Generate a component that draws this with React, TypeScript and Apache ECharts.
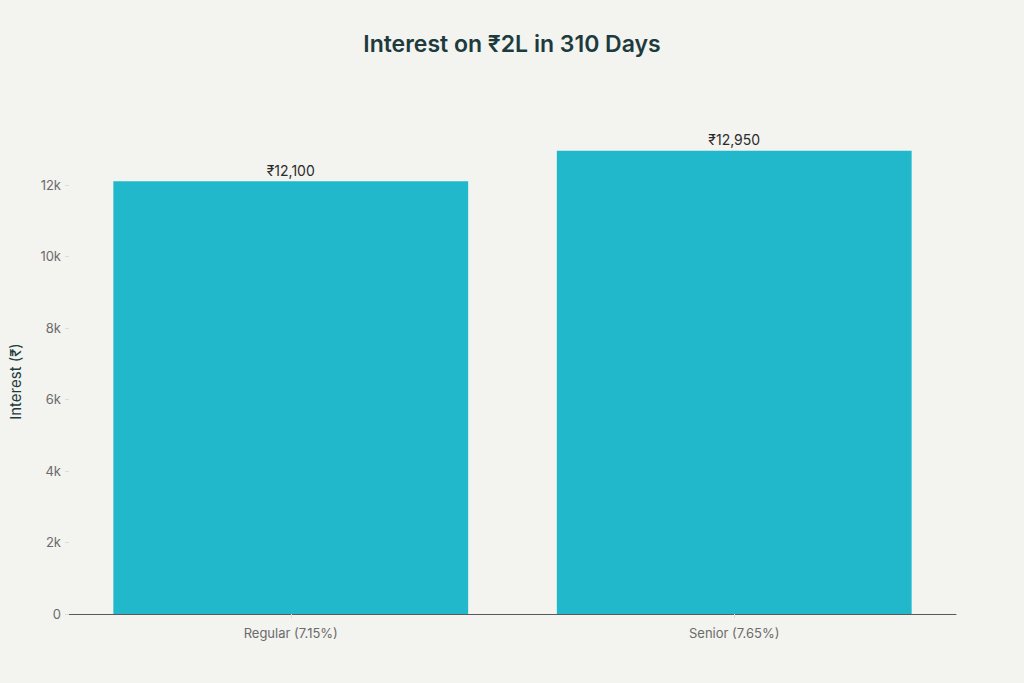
import React, { useEffect, useRef } from 'react'
import * as echarts from 'echarts'

const categories = ['Regular (7.15%)', 'Senior (7.65%)']
const interestValues = [12100, 12950]
const valueLabels = ['₹12,100', '₹12,950']

const FONT = 'Inter, "Noto Sans", "DejaVu Sans", sans-serif'

const App: React.FC = () => {
  const chartRef = useRef<HTMLDivElement>(null)

  useEffect(() => {
    if (!chartRef.current) return
    document.body.style.margin = '0'
    document.body.style.background = '#f3f3ef'
    const chart = echarts.init(chartRef.current, undefined, { renderer: 'svg' })

    const option: echarts.EChartsOption = {
      animation: false,
      backgroundColor: '#f3f3ef',
      title: {
        text: 'Interest on ₹2L in 310 Days',
        left: 'center',
        top: 27,
        textStyle: {
          color: '#1d3b3d',
          fontSize: 23,
          fontWeight: 600,
          fontFamily: FONT
        }
      },
      grid: {
        left: 66,
        right: 68,
        top: 149,
        bottom: 69
      },
      xAxis: {
        type: 'category',
        data: categories,
        axisLine: { lineStyle: { color: '#5a5a5a', width: 1 } },
        axisTick: { show: true, alignWithLabel: true, length: 4, lineStyle: { color: '#dcdcdc' } },
        axisLabel: {
          color: '#6b6b6b',
          fontSize: 13,
          fontFamily: FONT,
          margin: 12,
          interval: 0
        }
      },
      yAxis: {
        type: 'value',
        min: 0,
        max: 13000,
        interval: 2000,
        name: 'Interest (₹)',
        nameLocation: 'middle',
        nameGap: 46,
        nameTextStyle: {
          color: '#1d3b3d',
          fontSize: 15,
          fontFamily: FONT
        },
        axisLine: { show: false },
        axisTick: { show: true, length: 4, lineStyle: { color: '#dcdcdc' } },
        splitLine: { show: false },
        axisLabel: {
          color: '#6b6b6b',
          fontSize: 13,
          fontFamily: FONT,
          margin: 8,
          showMaxLabel: false,
          formatter: (v: number) => (v === 0 ? '0' : `${v / 1000}k`)
        }
      },
      series: [
        {
          type: 'bar',
          data: interestValues,
          barWidth: '80%',
          itemStyle: { color: '#21b8cc' },
          label: {
            show: true,
            position: 'top',
            distance: 4,
            color: '#2b2b2b',
            fontSize: 14,
            fontFamily: FONT,
            formatter: (p: any) => valueLabels[p.dataIndex]
          }
        }
      ]
    }

    chart.setOption(option)
    return () => {
      chart.dispose()
    }
  }, [])

  return (
    <div
      ref={chartRef}
      style={{ position: 'absolute', left: 0, top: 0, width: 1024, height: 683 }}
    />
  )
}

export default App
